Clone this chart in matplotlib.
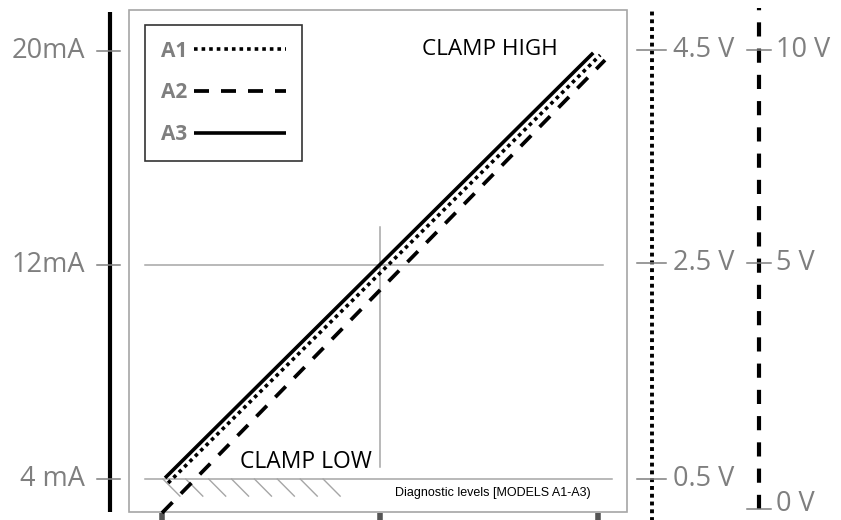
import matplotlib
matplotlib.use("Agg")
import matplotlib.pyplot as plt
from matplotlib.patches import Rectangle
import numpy as np

plt.rcParams['font.family'] = ['Open Sans', 'DejaVu Sans']

# output characteristics: input (% of range) vs loop current (mA)
series = ['A1', 'A2', 'A3']
x_a1 = [1.4, 100.5]
y_a1 = [3.85, 19.85]
x_a2 = [0.0, 101.6]
y_a2 = [2.73, 19.66]
x_a3 = [0.7, 98.9]
y_a3 = [4.04, 19.93]

ma_ticks = [4, 12, 20]
ma_labels = ['4 mA', '12mA', '20mA']
v1_ticks_ma = [4.0, 12.07, 20.04]          # A1 voltage scale (dotted)
v1_labels = ['0.5 V', '2.5 V', '4.5 V']
v2_ticks_ma = [2.88, 12.07, 20.04]         # A2 voltage scale (dashed)
v2_labels = ['0 V', '5 V', '10 V']
x_ticks = [0, 50, 100]

GRAY = '#7f7f7f'
LGRAY = '#a6a6a6'

fig = plt.figure(figsize=(8.41, 5.2), dpi=100)
ax = fig.add_axes([0, 0, 1, 1])
ax.set_xlim(-37.16, 155.73)
ax.set_ylim(2.467, 21.906)
ax.axis('off')

# outer frame
ax.add_patch(Rectangle((-7.57, 2.766), 106.65 + 7.57, 21.53 - 2.766,
                       fill=False, edgecolor=LGRAY, lw=1.2))

# left mA axis
ax.plot([-11.93, -11.93], [2.77, 21.46], color='black', lw=3, solid_capstyle='butt')
for t, lab in zip(ma_ticks, ma_labels):
    ax.plot([-14.9, -9.6], [t, t], color=GRAY, lw=1.1)
    ax.text(-17.7, t, lab, ha='right', va='center', color=GRAY, fontsize=19.5)

# right voltage axes
ax.plot([112.4, 112.4], [2.4, 21.6], color='black', lw=2.8, ls=(0, (1, 1.0)))
for t, lab in zip(v1_ticks_ma, v1_labels):
    ax.plot([108.9, 115.6], [t, t], color=GRAY, lw=1.1)
    ax.text(117.2, t, lab, ha='left', va='center', color=GRAY, fontsize=19.5)

ax.plot([136.9, 136.9], [2.88, 21.6], color='black', lw=3.0, ls=(0, (3.4, 2.9)))
for t, lab in zip(v2_ticks_ma, v2_labels):
    ax.plot([134.2, 139.7], [t, t], color=GRAY, lw=1.1)
    ax.text(140.8, max(t, 3.05), lab, ha='left', va='center',
            color=GRAY, fontsize=19.5)

# bottom stubs
for t in x_ticks:
    ax.plot([t, t], [2.45, 2.73], color='#555555', lw=4, solid_capstyle='butt')

# reference lines
ax.plot([-3.9, 101.1], [12, 12], color=LGRAY, lw=1.1)
ax.plot([-3.9, 103.2], [4, 4], color=LGRAY, lw=1.1)
ax.plot([50, 50], [4.45, 13.42], color=LGRAY, lw=1.1)

# hatching under clamp low
for hx in 0.2 + 5.25 * np.arange(8):
    ax.plot([hx, hx + 3.9], [4.0, 3.36], color=LGRAY, lw=1.0)

# characteristic lines
ax.plot(x_a1, y_a1, color='black', lw=2.6, ls=(0, (1, 1.1)), label=series[0])
ax.plot(x_a2, y_a2, color='black', lw=2.7, ls=(0, (4, 3.2)), label=series[1])
ax.plot(x_a3, y_a3, color='black', lw=2.6, solid_capstyle='butt', label=series[2])

ax.text(17.9, 4.64, 'CLAMP LOW', ha='left', va='center', color='black', fontsize=16.5)
ax.text(59.6, 20.04, 'CLAMP HIGH', ha='left', va='center', color='black', fontsize=16.2)
ax.text(53.4, 3.48, 'Diagnostic levels [MODELS A1-A3)', ha='left', va='center',
        color='black', fontsize=9, family='Liberation Sans')

leg = ax.legend(loc='upper left', bbox_to_anchor=(145 / 841, 1 - 25 / 520),
                bbox_transform=fig.transFigure, borderaxespad=0,
                markerfirst=False, handlelength=4.4, handletextpad=0.35,
                labelspacing=1.0, borderpad=0.75, fancybox=False,
                prop={'weight': 'bold', 'size': 15})
leg.get_frame().set_edgecolor('black')
leg.get_frame().set_linewidth(1.2)
for txt in leg.get_texts():
    txt.set_color(GRAY)

fig.savefig('out.png', dpi=100)
